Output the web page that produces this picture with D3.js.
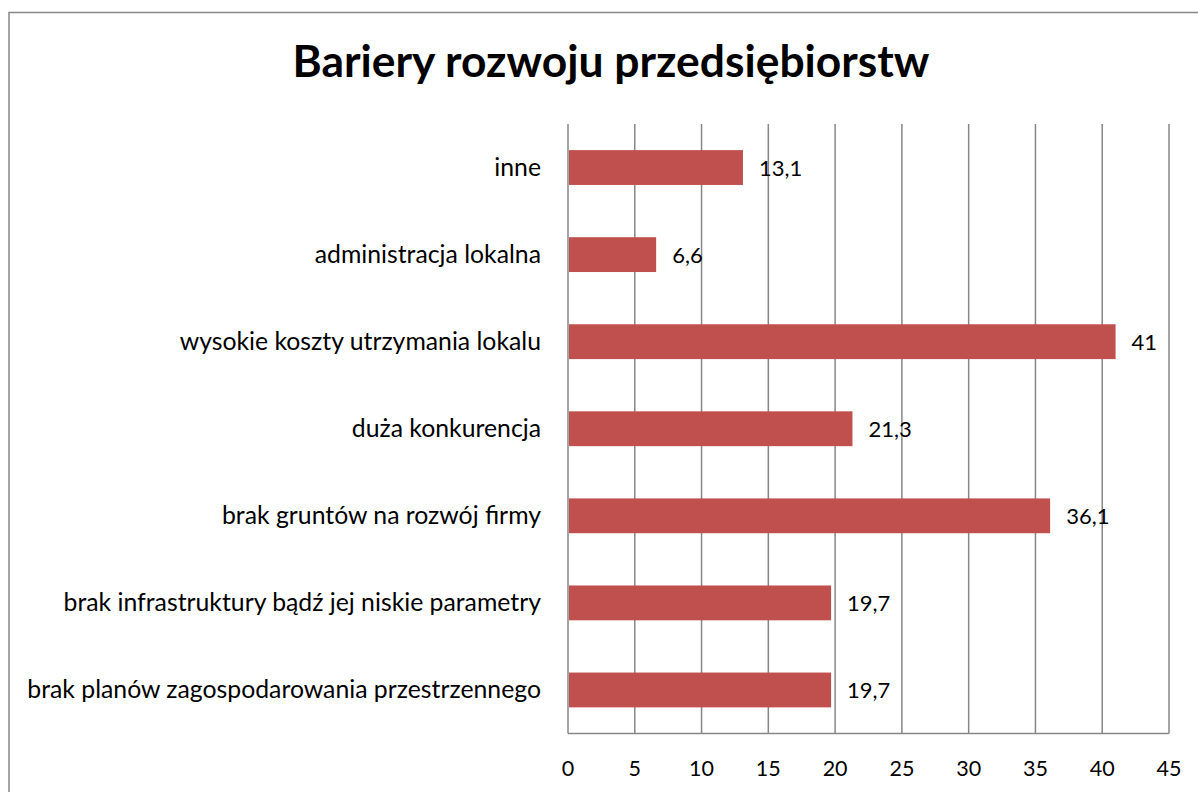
<!DOCTYPE html>
<html>
<head>
<meta charset="utf-8">
<script src="https://cdn.jsdelivr.net/npm/d3@7"></script>
<style>
  body { margin: 0; background: #fff; }
  svg { display: block; font-family: Lato, "Open Sans", sans-serif; }
</style>
</head>
<body>
<svg id="chart" width="1198" height="792"></svg>
<script>
const title = "Bariery rozwoju przedsiębiorstw";
const categories = [
  "inne",
  "administracja lokalna",
  "wysokie koszty utrzymania lokalu",
  "duża konkurencja",
  "brak gruntów na rozwój firmy",
  "brak infrastruktury bądź jej niskie parametry",
  "brak planów zagospodarowania przestrzennego"
];
const values = [13.1, 6.6, 41, 21.3, 36.1, 19.7, 19.7];
const ticks = [0, 5, 10, 15, 20, 25, 30, 35, 40, 45];

const svg = d3.select("#chart");
const grid = "#878787";
const plotL = 568, plotR = 1169, plotT = 124, plotB = 733.5;

// outer frame, runs off the right and bottom edge like the picture
svg.append("rect")
  .attr("x", 9).attr("y", 12.5)
  .attr("width", 1300).attr("height", 900)
  .attr("fill", "none").attr("stroke", grid).attr("stroke-width", 1.5);

const x = d3.scaleLinear().domain([0, 45]).range([plotL, plotR]);
const y = d3.scaleBand().domain(categories).range([plotT, plotB]);
const barH = y.bandwidth() * 0.4;
const fmt = v => String(v).replace(".", ",");

// vertical gridlines
svg.append("g")
  .selectAll("line")
  .data(ticks).enter()
  .append("line")
  .attr("x1", d => x(d)).attr("x2", d => x(d))
  .attr("y1", plotT).attr("y2", plotB)
  .attr("stroke", grid).attr("stroke-width", 1.5);

// bottom axis line
svg.append("line")
  .attr("x1", x(0)).attr("x2", x(45))
  .attr("y1", plotB).attr("y2", plotB)
  .attr("stroke", grid).attr("stroke-width", 1.5);

// bars
svg.append("g")
  .selectAll("rect")
  .data(values).enter()
  .append("rect")
  .attr("x", x(0) + 1)
  .attr("y", (d, i) => y(categories[i]) + (y.bandwidth() - barH) / 2)
  .attr("width", d => x(d) - x(0) - 1)
  .attr("height", barH)
  .attr("fill", "#C0504D");

// value labels
svg.append("g")
  .selectAll("text")
  .data(values).enter()
  .append("text")
  .attr("x", d => x(d) + 16)
  .attr("y", (d, i) => y(categories[i]) + y.bandwidth() / 2 + 8)
  .attr("font-size", 22)
  .attr("fill", "#000")
  .text(fmt);

// category labels, sized so the longest one fits like in the picture
const cat = svg.append("g")
  .selectAll("text")
  .data(categories).enter()
  .append("text")
  .attr("x", 541)
  .attr("y", d => y(d) + y.bandwidth() / 2 + 8)
  .attr("text-anchor", "end")
  .attr("font-size", 22)
  .attr("fill", "#000")
  .text(d => d);
const longest = cat.nodes()[6].getComputedTextLength();
cat.attr("font-size", 22 * 514 / longest);

// tick labels
svg.append("g")
  .selectAll("text")
  .data(ticks).enter()
  .append("text")
  .attr("x", d => x(d))
  .attr("y", 776)
  .attr("text-anchor", "middle")
  .attr("font-size", 21.5)
  .attr("fill", "#000")
  .text(d => d);

// title
const t = svg.append("text")
  .attr("x", 611).attr("y", 77)
  .attr("text-anchor", "middle")
  .attr("font-weight", "bold")
  .attr("font-size", 44)
  .attr("fill", "#000")
  .text(title);
t.attr("font-size", 44 * 637 / t.node().getComputedTextLength());
</script>
</body>
</html>
